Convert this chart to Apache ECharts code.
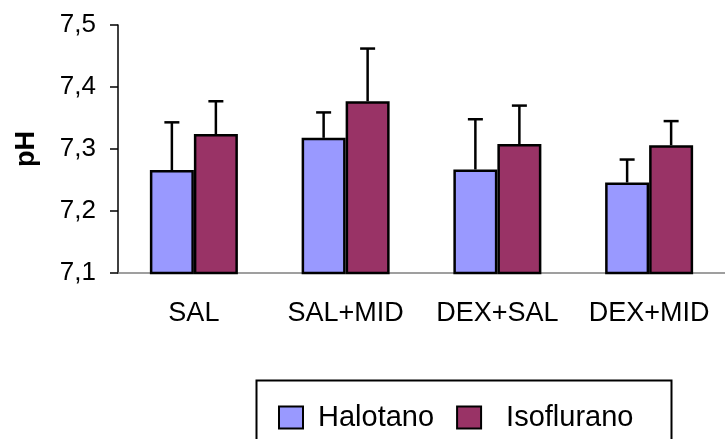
<!DOCTYPE html>
<html>
<head>
<meta charset="utf-8">
<script src="https://cdn.jsdelivr.net/npm/echarts@6/dist/echarts.min.js"></script>
<style>
  html, body { margin: 0; padding: 0; background: #fff; }
  #chart { width: 725px; height: 439px; }
</style>
</head>
<body>
<div id="chart"></div>
<script>
// dati
const categories = ['SAL', 'SAL+MID', 'DEX+SAL', 'DEX+MID'];
const halotano = [7.266, 7.318, 7.267, 7.246];
const halotanoErr = [0.077, 0.041, 0.081, 0.037];
const isoflurano = [7.324, 7.377, 7.308, 7.306];
const isofluranoErr = [0.053, 0.085, 0.062, 0.039];
const yTicks = [7.1, 7.2, 7.3, 7.4, 7.5];

const FONT = '"Liberation Sans", Arial, sans-serif';
const BAR_W = 44;

const myChart = echarts.init(document.getElementById('chart'));

// barra d'errore (solo verso l'alto)
function errorSeries(name, values, errs, offset) {
  return {
    type: 'custom',
    name: name + ' err',
    z: 5,
    silent: true,
    data: values.map((v, i) => [i, v, v + errs[i]]),
    renderItem: function (params, api) {
      const base = api.coord([api.value(0), api.value(1)]);
      const top = api.coord([api.value(0), api.value(2)]);
      const x = base[0] + offset;
      const style = { stroke: '#000', lineWidth: 2.5 };
      return {
        type: 'group',
        children: [
          { type: 'line', shape: { x1: x, y1: base[1], x2: x, y2: top[1] }, style: style },
          { type: 'line', shape: { x1: x - 7.5, y1: top[1], x2: x + 7.5, y2: top[1] }, style: style }
        ]
      };
    }
  };
}

const option = {
  animation: false,
  backgroundColor: '#fff',
  textStyle: { fontFamily: FONT },
  grid: { left: 118, right: -11, top: 25, bottom: 166, containLabel: false },
  legend: {
    left: 273,
    top: 398,
    itemWidth: 24,
    itemHeight: 22,
    itemGap: 22,
    icon: 'rect',
    data: [
      'Halotano',
      { name: 'Isoflurano', textStyle: { padding: [0, 0, 0, 20] } }
    ],
    textStyle: { fontSize: 29, color: '#000', fontFamily: FONT, padding: [0, 0, 0, 10] }
  },
  graphic: [
    {
      type: 'rect',
      left: 254,
      top: 378,
      shape: { width: 415, height: 90 },
      style: { fill: 'none', stroke: '#000', lineWidth: 2 },
      z: -1
    }
  ],
  xAxis: {
    type: 'category',
    data: categories,
    axisLine: { lineStyle: { color: '#808080', width: 1.5 } },
    axisTick: { length: 8, lineStyle: { color: '#000', width: 1.5 } },
    axisLabel: { fontSize: 27, color: '#000', margin: 27, interval: 0, hideOverlap: false, fontFamily: FONT }
  },
  yAxis: {
    type: 'value',
    min: yTicks[0],
    max: yTicks[yTicks.length - 1],
    interval: 0.1,
    name: 'pH',
    nameLocation: 'middle',
    nameRotate: 90,
    nameGap: 78,
    nameTextStyle: { fontSize: 27, fontWeight: 'bold', color: '#000', fontFamily: FONT },
    splitLine: { show: false },
    axisLine: { show: true, lineStyle: { color: '#000', width: 1.5 } },
    axisTick: { show: true, length: 8, lineStyle: { color: '#000', width: 1.5 } },
    axisLabel: {
      fontSize: 26,
      color: '#000',
      margin: 22,
      fontFamily: FONT,
      formatter: v => v.toFixed(1).replace('.', ',')
    }
  },
  series: [
    {
      name: 'Halotano',
      type: 'bar',
      data: halotano,
      barWidth: BAR_W,
      barGap: '0%',
      itemStyle: { color: '#9999FF', borderColor: '#000', borderWidth: 2.5 }
    },
    {
      name: 'Isoflurano',
      type: 'bar',
      data: isoflurano,
      barWidth: BAR_W,
      barGap: '0%',
      itemStyle: { color: '#993366', borderColor: '#000', borderWidth: 2.5 }
    },
    errorSeries('Halotano', halotano, halotanoErr, -BAR_W / 2),
    errorSeries('Isoflurano', isoflurano, isofluranoErr, BAR_W / 2)
  ]
};

option && myChart.setOption(option);
</script>
</body>
</html>
